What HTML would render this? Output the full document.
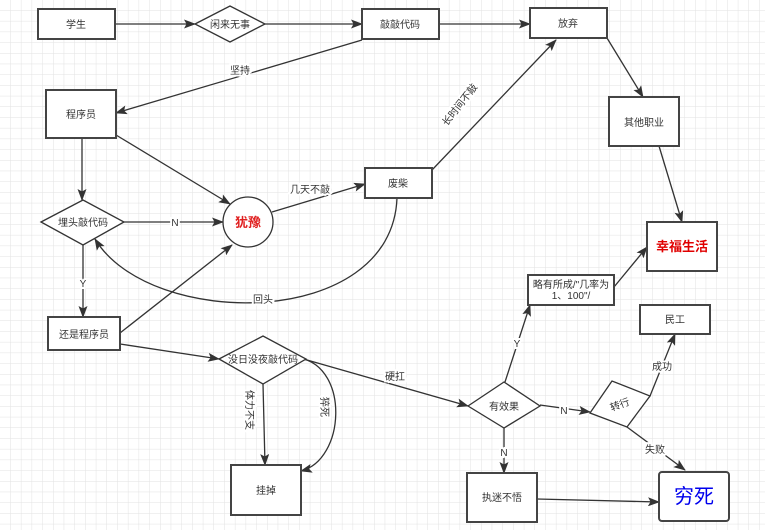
<!DOCTYPE html>
<html><head><meta charset="utf-8"><style>
html,body{margin:0;padding:0;background:#fff;}
svg{display:block;}
text{font-family:"Liberation Sans","Noto Sans CJK SC",sans-serif;font-size:10px;fill:#333;}
.lb{paint-order:stroke;stroke:#fff;stroke-width:4px;}
</style></head><body>
<svg width="765" height="530" viewBox="0 0 765 530" xmlns="http://www.w3.org/2000/svg">
<defs>
<pattern id="g" width="10.7" height="10.7" patternUnits="userSpaceOnUse"><path d="M10.7 0V10.7H0" fill="none" stroke="#e2e2e2" stroke-width="1"/></pattern>
<marker id="a" markerWidth="12" markerHeight="9" refX="11" refY="4.5" orient="auto" markerUnits="userSpaceOnUse"><path d="M0,0 L12,4.5 L0,9 L2.5,4.5 z" fill="#333"/></marker>
</defs>
<rect width="765" height="530" fill="url(#g)"/>
<g fill="none" stroke="#333" stroke-width="1.3" marker-end="url(#a)">
<line x1="115" y1="24" x2="195" y2="24"/>
<line x1="265" y1="24" x2="362" y2="24"/>
<line x1="439" y1="24" x2="530" y2="24"/>
<line x1="362" y1="40" x2="116" y2="113"/>
<line x1="82" y1="138" x2="82" y2="200"/>
<line x1="116" y1="135" x2="230" y2="204"/>
<line x1="124" y1="222" x2="223" y2="222"/>
<line x1="83" y1="245" x2="83" y2="317"/>
<line x1="272" y1="212" x2="365" y2="184"/>
<path d="M397,198 C392,330 150,330 95,239"/>
<line x1="432" y1="170" x2="556" y2="40"/>
<line x1="607" y1="38" x2="643" y2="97"/>
<line x1="659" y1="146" x2="682" y2="222"/>
<line x1="120" y1="333" x2="232" y2="245"/>
<line x1="120" y1="344" x2="219" y2="359"/>
<line x1="263" y1="384" x2="265" y2="465"/>
<path d="M300,358 C350,368 345,460 301,471"/>
<line x1="300" y1="358" x2="468" y2="406"/>
<line x1="505" y1="382" x2="530" y2="305"/>
<line x1="614" y1="287" x2="647" y2="247"/>
<line x1="540" y1="405" x2="590" y2="412"/>
<line x1="504" y1="428" x2="504" y2="473"/>
<line x1="650" y1="396" x2="675" y2="334"/>
<line x1="627" y1="427" x2="685" y2="470"/>
<line x1="537" y1="499" x2="659" y2="502"/>
</g>
<g fill="#fff" stroke="#444" stroke-width="2">
<rect x="38" y="9" width="77" height="30"/>
<rect x="362" y="9" width="77" height="30"/>
<rect x="530" y="8" width="77" height="30"/>
<rect x="46" y="90" width="70" height="48"/>
<rect x="365" y="168" width="67" height="30"/>
<rect x="609" y="97" width="70" height="49"/>
<rect x="647" y="222" width="70" height="49"/>
<rect x="528" y="275" width="86" height="30"/>
<rect x="640" y="305" width="70" height="29"/>
<rect x="48" y="317" width="72" height="33"/>
<rect x="231" y="465" width="70" height="50"/>
<rect x="467" y="473" width="70" height="49"/>
<rect x="659" y="472" width="70" height="49" rx="3"/>
</g>
<g fill="#fff" stroke="#333" stroke-width="1.3">
<polygon points="195,24 230,6 265,24 230,42"/>
<polygon points="41,222 83,200 124,222 83,245"/>
<polygon points="219,359 263,336 306,359 263,384"/>
<polygon points="468,406 504,382 540,406 504,428"/>
<polygon points="590,413 612,381 650,396 627,427"/>
<circle cx="248" cy="222" r="25"/>
</g>
<g text-anchor="middle">
<text x="76" y="28">学生</text>
<text x="230" y="28">闲来无事</text>
<text x="400" y="28">敲敲代码</text>
<text x="568" y="27">放弃</text>
<text x="81" y="118">程序员</text>
<text x="83" y="226">埋头敲代码</text>
<text x="398" y="187">废柴</text>
<text x="644" y="126">其他职业</text>
<text x="571" y="288">略有所成/"几率为</text>
<text x="571" y="299">1、100"/</text>
<text x="675" y="323">民工</text>
<text x="84" y="338">还是程序员</text>
<text x="263" y="363">没日没夜敲代码</text>
<text x="504" y="410">有效果</text>
<text x="620" y="408" transform="rotate(-20 620 405)">转行</text>
<text x="266" y="494">挂掉</text>
<text x="502" y="501">执迷不悟</text>
<text x="248" y="227" style="font-size:13px;font-weight:bold;fill:#e02020">犹豫</text>
<text x="682" y="251" style="font-size:13px;font-weight:bold;fill:#e00000">幸福生活</text>
<text x="694" y="503" style="font-size:20px;fill:#0000ee">穷死</text>
<g class="lb">
<text x="240" y="74">坚持</text>
<text x="175" y="226">N</text>
<text x="83" y="287">Y</text>
<text x="310" y="193">几天不敲</text>
<text x="263" y="303">回头</text>
<text x="395" y="380">硬扛</text>
<text x="517" y="347">Y</text>
<text x="564" y="414">N</text>
<text x="504" y="456">N</text>
<text x="662" y="370">成功</text>
<text x="655" y="453">失败</text>
<text x="460" y="108" transform="rotate(-52 460 105)">长时间不敲</text>
<text x="250" y="414" transform="rotate(90 250 410)">体力不支</text>
<text x="325" y="411" transform="rotate(90 325 407)">猝死</text>
</g>
</g>
</svg>
</body></html>
